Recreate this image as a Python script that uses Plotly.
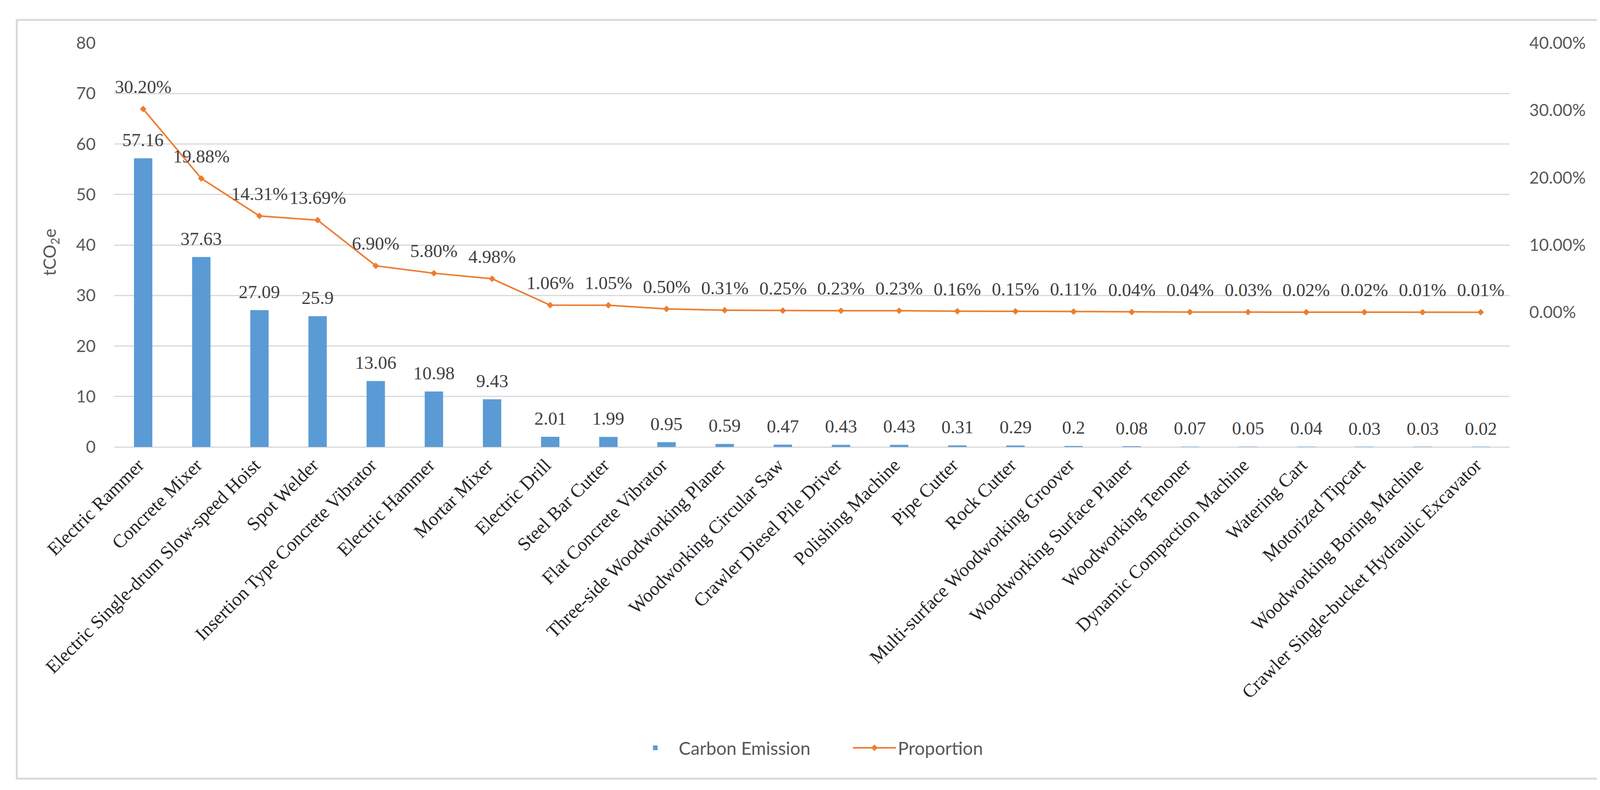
import plotly.graph_objects as go

categories = [
    "Electric Rammer", "Concrete Mixer", "Electric Single-drum Slow-speed Hoist",
    "Spot Welder", "Insertion Type Concrete Vibrator", "Electric Hammer",
    "Mortar Mixer", "Electric Drill", "Steel Bar Cutter", "Flat Concrete Vibrator",
    "Three-side Woodworking Planer", "Woodworking Circular Saw",
    "Crawler Diesel Pile Driver", "Polishing Machine", "Pipe Cutter", "Rock Cutter",
    "Multi-surface Woodworking Groover", "Woodworking Surface Planer",
    "Woodworking Tenoner", "Dynamic Compaction Machine", "Watering Cart",
    "Motorized Tipcart", "Woodworking Boring Machine",
    "Crawler Single-bucket Hydraulic Excavator",
]
carbon_emission = [57.16, 37.63, 27.09, 25.9, 13.06, 10.98, 9.43, 2.01, 1.99, 0.95,
                   0.59, 0.47, 0.43, 0.43, 0.31, 0.29, 0.2, 0.08, 0.07, 0.05,
                   0.04, 0.03, 0.03, 0.02]
proportion = [0.3020, 0.1988, 0.1431, 0.1369, 0.0690, 0.0580, 0.0498, 0.0106, 0.0105,
              0.0050, 0.0031, 0.0025, 0.0023, 0.0023, 0.0016, 0.0015, 0.0011, 0.0004,
              0.0004, 0.0003, 0.0002, 0.0002, 0.0001, 0.0001]
left_ticks = [0, 10, 20, 30, 40, 50, 60, 70, 80]
right_ticks = [0, 0.1, 0.2, 0.3, 0.4]

BAR = "#5B9BD5"
LINE = "#ED7D31"
GRID = "#D9D9D9"
AXT = "#595959"
SANS = "Lato, 'Open Sans', sans-serif"
SERIF = "'Liberation Serif', 'Times New Roman', serif"

W, H = 4142, 2022
PL, PR, PT, PB = 284, 3857, 102, 1136
pw, ph = PR - PL, PB - PT

def px_x(x):
    return (x - PL) / pw

def px_y(y):
    return (PB - y) / ph

fig = go.Figure()
fig.add_trace(go.Bar(
    x=categories, y=carbon_emission, name="Carbon Emission",
    marker=dict(color=BAR, line=dict(width=0)), yaxis="y",
))
fig.add_trace(go.Scatter(
    x=categories, y=proportion, name="Proportion", yaxis="y2",
    mode="lines+markers",
    line=dict(color=LINE, width=4),
    marker=dict(symbol="diamond", size=13, color=LINE),
))

annotations = []
for c, v in zip(categories, carbon_emission):
    annotations.append(dict(
        x=c, y=v, xref="x", yref="y", text=str(v), showarrow=False,
        yanchor="middle", yshift=47,
        font=dict(family=SERIF, size=47, color="#404040"),
    ))
for c, p in zip(categories, proportion):
    annotations.append(dict(
        x=c, y=p, xref="x", yref="y2", text=f"{p*100:.2f}%", showarrow=False,
        yanchor="middle", yshift=57,
        font=dict(family=SERIF, size=47, color="#404040"),
    ))
annotations.append(dict(
    x=px_x(121), y=px_y(638), xref="paper", yref="paper",
    text="tCO<sub>2</sub>e", textangle=-90, showarrow=False,
    xanchor="center", yanchor="middle",
    font=dict(family=SANS, size=44, color=AXT),
))

fig.update_layout(
    width=W, height=H,
    margin=dict(l=PL, r=W - PR, t=PT, b=H - PB, pad=0, autoexpand=False),
    paper_bgcolor="white", plot_bgcolor="white",
    bargap=0.684,
    showlegend=True,
    legend=dict(
        orientation="h", x=0.528, xanchor="center", y=px_y(1906), yanchor="middle",
        font=dict(family=SANS, size=46, color=AXT),
        itemwidth=110, tracegroupgap=0, bgcolor="rgba(0,0,0,0)",
        entrywidth=436, entrywidthmode="pixels",
    ),
    xaxis=dict(
        type="category", range=[-0.5, len(categories) - 0.5], autorange=False,
        tickangle=-45, automargin=False,
        tickfont=dict(family=SERIF, size=48, color="#262626"),
        showgrid=False, showline=False, ticks="",
        ticklabelstandoff=8, ticklabelshift=-12,
    ),
    yaxis=dict(
        range=[0, 80], tickvals=left_ticks, automargin=False,
        tickfont=dict(family=SANS, size=43, color=AXT),
        showgrid=True, gridcolor=GRID, gridwidth=3,
        zeroline=True, zerolinecolor=GRID, zerolinewidth=3,
        showline=False, ticks="", ticklabelstandoff=46,
    ),
    yaxis2=dict(
        overlaying="y", side="right", range=[-0.2, 0.4], automargin=False,
        tickvals=right_ticks, tickformat=".2%",
        tickfont=dict(family=SANS, size=43, color=AXT),
        showgrid=False, zeroline=False, showline=False, ticks="",
        ticklabelstandoff=49,
    ),
    annotations=annotations,
    shapes=[dict(
        type="rect", xref="paper", yref="paper",
        x0=px_x(35), x1=px_x(4105), y0=px_y(1985), y1=px_y(43),
        line=dict(color=GRID, width=5), fillcolor="rgba(0,0,0,0)", layer="below",
    )],
)

fig.write_html("out.html")
